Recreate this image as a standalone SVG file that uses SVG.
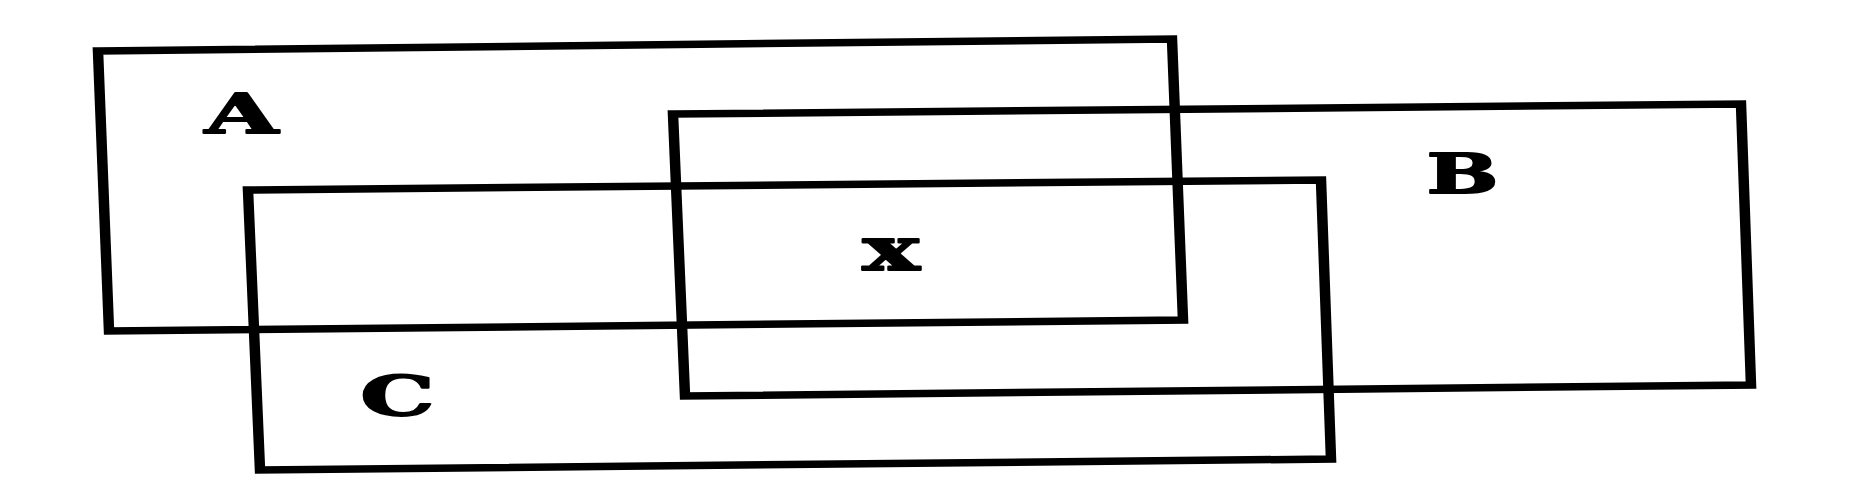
<svg xmlns="http://www.w3.org/2000/svg" width="1876" height="501" viewBox="0 0 1876 501">
<style>
.box{fill:none;stroke:#000;stroke-width:7.5;stroke-linejoin:miter}
.lbl{font-family:"DejaVu Serif","Liberation Serif",serif;font-weight:bold;font-size:55px;fill:#000;stroke:#000;stroke-width:1.8;stroke-linejoin:round;text-anchor:middle}
</style>
<rect width="1876" height="501" fill="#fff"/>
<g id="connectors"></g>
<g transform="scale(1.4,1)">
<g id="nodeA"><polygon class="box" points="70,51 837.14,39 845,320 77.86,331"/></g>
<g id="nodeB"><polygon class="box" points="480.71,114 1243.57,104 1250.71,385 489.29,396"/></g>
<g id="nodeC"><polygon class="box" points="177.14,190 943.57,180 950.71,459 185.71,470"/></g>
</g>
<text class="lbl" transform="translate(241.5,133) scale(1.72,1)">A</text>
<text class="lbl" transform="translate(1462.5,193) scale(1.55,1)">B</text>
<text class="lbl" transform="translate(397.5,415) scale(1.7,1)">C</text>
<text class="lbl" style="font-size:60px" transform="translate(891,270) scale(1.6,1)">x</text>
</svg>
